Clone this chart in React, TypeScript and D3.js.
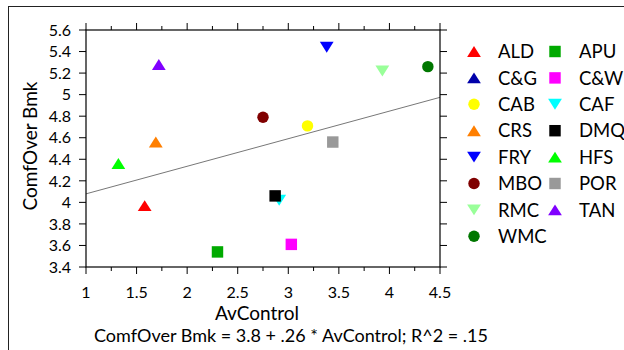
import React from "react";
import * as d3 from "d3";

const names = ["ALD", "C&G", "CAB", "CRS", "FRY", "MBO", "RMC", "WMC", "APU", "C&W", "CAF", "DMQ", "HFS", "POR", "TAN"];
const shapes = ["up", "up", "circle", "up", "down", "circle", "down", "circle", "square", "square", "down", "square", "up", "square", "up"];
const colors = ["#ff0000", "#0000aa", "#ffff00", "#ff7f00", "#0000ff", "#800000", "#99ff99", "#007700", "#00aa00", "#ff00ff", "#00ffff", "#000000", "#00ff00", "#999999", "#8000ff"];
const xValues: (number | null)[] = [1.58, null, 3.19, 1.69, 3.38, 2.75, 3.93, 4.38, 2.30, 3.03, 2.91, 2.87, 1.32, 3.44, 1.72];
const yValues: (number | null)[] = [3.97, null, 4.71, 4.56, 5.44, 4.79, 5.22, 5.26, 3.54, 3.61, 4.02, 4.06, 4.36, 4.56, 5.28];

const xTicks = [1, 1.5, 2, 2.5, 3, 3.5, 4, 4.5];
const xTickLabels = ["1", "1.5", "2", "2.5", "3", "3.5", "4", "4.5"];
const yTicks = [3.4, 3.6, 3.8, 4, 4.2, 4.4, 4.6, 4.8, 5, 5.2, 5.4, 5.6];
const yTickLabels = ["3.4", "3.6", "3.8", "4", "4.2", "4.4", "4.6", "4.8", "5", "5.2", "5.4", "5.6"];
const fitIntercept = [3.823];
const fitSlope = [0.256];

const FONT = "Lato, 'Open Sans', sans-serif";

function Marker({ shape, color, cx, cy, s }: { shape: string; color: string; cx: number; cy: number; s: number }) {
  if (shape === "circle") return <circle cx={cx} cy={cy} r={s * 0.44} fill={color} />;
  if (shape === "square") {
    const h = s * 0.44;
    return <rect x={cx - h} y={cy - h} width={2 * h} height={2 * h} fill={color} />;
  }
  const w = s * 0.53;
  const h = s * 0.42;
  if (shape === "up")
    return <path d={`M${cx - w},${cy + h} L${cx + w},${cy + h} L${cx},${cy - h} Z`} fill={color} />;
  return <path d={`M${cx - w},${cy - h} L${cx + w},${cy - h} L${cx},${cy + h} Z`} fill={color} />;
}

export default function App() {
  const W = 624, H = 350;
  const left = 86, right = 440, top = 30, bottom = 267;
  const x = d3.scaleLinear().domain([1, 4.5]).range([left, right]);
  const y = d3.scaleLinear().domain([3.4, 5.6]).range([bottom, top]);
  const minorX = d3.range(1, 4.5001, 0.25);

  const fit = d3.line<number>().x((d) => x(d)).y((d) => y(fitIntercept[0] + fitSlope[0] * d));

  const legendRows = 8;
  return (
    <svg width={W} height={H} style={{ position: "absolute", left: 0, top: 0, background: "#fff" }} fontFamily={FONT}>
      <rect x={8.5} y={6.5} width={W} height={H} fill="none" stroke="#222" strokeWidth={1} />
      <path d={fit([1, 4.5]) || ""} stroke="#777" strokeWidth={1} fill="none" />
      <rect x={left} y={top} width={right - left} height={bottom - top} fill="none" stroke="#000" strokeWidth={1.2} />
      {minorX.map((v, i) => {
        const major = i % 2 === 0;
        const len = major ? 7 : 4;
        return (
          <g key={"xt" + i}>
            <line x1={x(v)} x2={x(v)} y1={bottom} y2={bottom + len} stroke="#000" />
            <line x1={x(v)} x2={x(v)} y1={top} y2={top - len} stroke="#000" />
          </g>
        );
      })}
      {yTicks.map((v, i) => (
        <g key={"yt" + i}>
          <line x1={left} x2={left - 7} y1={y(v)} y2={y(v)} stroke="#000" />
          <line x1={right} x2={right + 7} y1={y(v)} y2={y(v)} stroke="#000" />
        </g>
      ))}
      {xTicks.map((v, i) => (
        <text key={"xl" + i} x={x(v)} y={297.5} textAnchor="middle" fontSize={16} fill="#000">
          {xTickLabels[i]}
        </text>
      ))}
      {yTicks.map((v, i) => (
        <text key={"yl" + i} x={71} y={y(v) + 5.7} textAnchor="end" fontSize={16} fill="#000">
          {yTickLabels[i]}
        </text>
      ))}
      <text x={257} y={320} textAnchor="middle" fontSize={19} fill="#000">AvControl</text>
      <text x={291} y={341.5} textAnchor="middle" fontSize={18} fill="#000">
        ComfOver Bmk = 3.8 + .26 * AvControl; R^2 = .15
      </text>
      <text transform={`translate(37,146) rotate(-90)`} textAnchor="middle" fontSize={19} fill="#000">
        ComfOver Bmk
      </text>
      {names.map((n, i) =>
        xValues[i] == null || yValues[i] == null ? null : (
          <Marker key={"p" + n} shape={shapes[i]} color={colors[i]} cx={x(xValues[i] as number)} cy={y(yValues[i] as number)} s={13} />
        )
      )}
      {names.map((n, i) => {
        const c = i < legendRows ? 0 : 1;
        const r = i < legendRows ? i : i - legendRows;
        const mx = c === 0 ? 474 : 555;
        const tx = c === 0 ? 498 : 579;
        const cy = 51.5 + r * 26.4;
        return (
          <g key={"lg" + n}>
            <Marker shape={shapes[i]} color={colors[i]} cx={mx} cy={cy} s={13} />
            <text x={tx} y={cy + 6.6} fontSize={18.5} fill="#000">{n}</text>
          </g>
        );
      })}
    </svg>
  );
}
